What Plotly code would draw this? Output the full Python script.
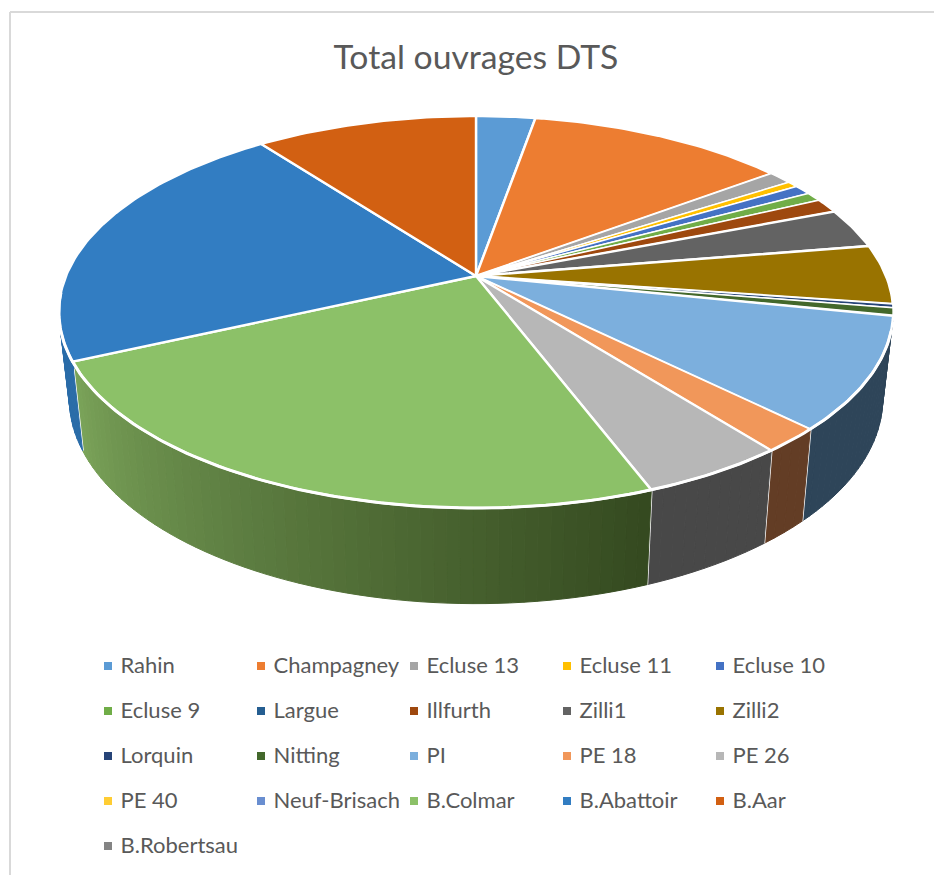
import math
import plotly.graph_objects as go

categories = ["Rahin", "Champagney", "Ecluse 13", "Ecluse 11", "Ecluse 10", "Ecluse 9", "Largue",
              "Illfurth", "Zilli1", "Zilli2", "Lorquin", "Nitting", "PI", "PE 18", "PE 26", "PE 40",
              "Neuf-Brisach", "B.Colmar", "B.Abattoir", "B.Aar", "B.Robertsau"]
values = [2.74, 12.0, 1.1, 0.5, 0.8, 0.75, 0.0, 1.2, 3.3, 4.9, 0.3, 0.64, 9.2, 2.0, 4.8, 0.0, 0.0,
          23.9, 21.6, 10.25, 0.0]
top_colors = ["#5B9BD5", "#ED7D31", "#A5A5A5", "#FFC000", "#4472C4", "#70AD47", "#255E91",
              "#9E480E", "#636363", "#997300", "#264478", "#43682B", "#7CAFDD", "#F1975A",
              "#B7B7B7", "#FFCD33", "#698ED0", "#8CC168", "#327DC2", "#D26012", "#848484"]
side_left = {"PI": "#2E4559", "PE 18": "#633D25", "PE 26": "#484848",
             "B.Colmar": "#34491F", "B.Abattoir": "#2A6CA8"}
side_right = {"B.Colmar": "#7BA45A"}
title = "Total ouvrages DTS"

# Projection of the tilted disc onto the page
CX, CY = 476.0, 276.0
K = -0.1837
RU, RV = 410.0, 189.4
SX = 0.975
DEPTH0, DEPTH1 = 89.0, 0.045


def project(theta):
    """Angle clockwise from 12 o'clock -> upper-rim point."""
    u, v = math.sin(theta), -math.cos(theta)
    w = 1 + K * v
    return CX + RU * u / w, CY + RV * v / w


def lower(x, y):
    return CX + (x - CX) * SX, y + DEPTH0 + (y - 361) * DEPTH1


def hex_mix(c0, c1, t):
    a = [int(c0[i:i + 2], 16) for i in (1, 3, 5)]
    b = [int(c1[i:i + 2], 16) for i in (1, 3, 5)]
    return "#%02X%02X%02X" % tuple(round(p + (q - p) * t) for p, q in zip(a, b))


total = sum(values)
edges = [0.0]
for val in values:
    edges.append(edges[-1] + val / total * 2 * math.pi)

fig = go.Figure()
STEP = math.radians(1.5)

# side wall
for i, name in enumerate(categories):
    if name not in side_left:
        continue
    a0, a1 = edges[i], edges[i + 1]
    a1_vis = min(a1, math.radians(272))
    n = max(1, int((a1_vis - a0) / STEP))
    c0 = side_left[name]
    c1 = side_right.get(name, c0)
    for j in range(n):
        t0 = a0 + (a1_vis - a0) * j / n
        t1 = a0 + (a1_vis - a0) * (j + 1) / n
        p0, p1 = project(t0), project(t1)
        q0, q1 = lower(*p0), lower(*p1)
        col = hex_mix(c0, c1, (j + 0.5) / n)
        fig.add_trace(go.Scatter(x=[p0[0], p1[0], q1[0], q0[0], p0[0]],
                                 y=[p0[1], p1[1], q1[1], q0[1], p0[1]],
                                 mode="lines", fill="toself", fillcolor=col,
                                 line=dict(color=col, width=1),
                                 hoverinfo="skip", showlegend=False))
    # white seam at slice boundary
    if math.pi / 2 < a1 < 1.5 * math.pi:
        p = project(a1)
        q = lower(*p)
        fig.add_trace(go.Scatter(x=[p[0], q[0]], y=[p[1], q[1]], mode="lines",
                                 line=dict(color="#FFFFFF", width=2.5),
                                 hoverinfo="skip", showlegend=False))

# top face
for i, name in enumerate(categories):
    if values[i] <= 0:
        continue
    a0, a1 = edges[i], edges[i + 1]
    n = max(2, int((a1 - a0) / math.radians(1)))
    pts = [project(a0 + (a1 - a0) * j / n) for j in range(n + 1)]
    xs = [CX] + [p[0] for p in pts] + [CX]
    ys = [CY] + [p[1] for p in pts] + [CY]
    lw = 2.4 if values[i] > 2 else 1.5
    fig.add_trace(go.Scatter(x=xs, y=ys, mode="lines", fill="toself", fillcolor=top_colors[i],
                             line=dict(color="#FFFFFF", width=lw), name=name,
                             hoverinfo="name", showlegend=False))

# white rim along the front of the top face
rim = [project(math.radians(d)) for d in range(106, 266)]
fig.add_trace(go.Scatter(x=[p[0] for p in rim], y=[p[1] for p in rim], mode="lines",
                         line=dict(color="#FFFFFF", width=3), hoverinfo="skip", showlegend=False))

# key
COLS = [108, 261, 414, 567, 720]
ROWS = [666, 711, 756, 801, 846]
for i, name in enumerate(categories):
    lx, ly = COLS[i % 5], ROWS[i // 5]
    fig.add_trace(go.Scatter(x=[lx], y=[ly], mode="markers",
                             marker=dict(symbol="square", size=8, color=top_colors[i], line=dict(width=0)),
                             hoverinfo="skip", showlegend=False))
    fig.add_trace(go.Scatter(x=[lx + 12.5], y=[ly + 1], mode="text", text=[name], textposition="middle right",
                             textfont=dict(family="Lato", size=22, color="#595959"),
                             hoverinfo="skip", showlegend=False))

fig.update_layout(
    width=934, height=875, autosize=False,
    margin=dict(l=0, r=0, t=0, b=0),
    paper_bgcolor="#FFFFFF", plot_bgcolor="#FFFFFF",
    showlegend=False,
    xaxis=dict(range=[0, 934], visible=False, fixedrange=True),
    yaxis=dict(range=[875, 0], visible=False, fixedrange=True),
    title=dict(text=title, x=476 / 934, xanchor="center", y=1 - 57 / 875, yanchor="middle",
               font=dict(family="Lato", size=33.7, color="#595959")),
    shapes=[dict(type="line", xref="x", yref="y", x0=10, x1=940, y0=12, y1=12,
                 line=dict(color="#D9D9D9", width=2)),
            dict(type="line", xref="x", yref="y", x0=10, x1=10, y0=12, y1=880,
                 line=dict(color="#D9D9D9", width=2))],
)

fig.write_html("out.html", config={"displayModeBar": False},
               post_script="document.body.style.margin='0';")
